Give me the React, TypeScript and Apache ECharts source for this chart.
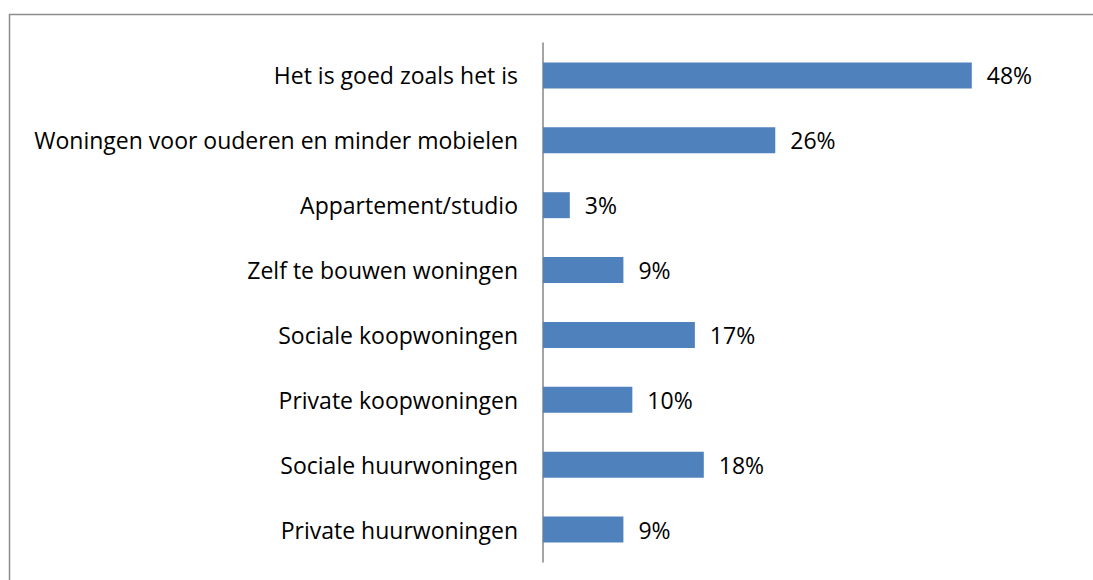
import React, { useEffect, useRef } from "react";
import * as echarts from "echarts";

const categories = [
  "Het is goed zoals het is",
  "Woningen voor ouderen en minder mobielen",
  "Appartement/studio",
  "Zelf te bouwen woningen",
  "Sociale koopwoningen",
  "Private koopwoningen",
  "Sociale huurwoningen",
  "Private huurwoningen",
];
const values = [48, 26, 3, 9, 17, 10, 18, 9];

export default function App() {
  const ref = useRef<HTMLDivElement>(null);
  useEffect(() => {
    if (!ref.current) return;
    const chart = echarts.init(ref.current, null, { renderer: "svg" });
    const font = "'Open Sans', 'Noto Sans', sans-serif";
    chart.setOption({
      animation: false,
      backgroundColor: "#ffffff",
      graphic: [
        {
          type: "rect",
          shape: { x: 9.5, y: 14.5, width: 1100, height: 600 },
          style: { fill: "none", stroke: "#8c8c8c", lineWidth: 1.5 },
          silent: true,
          z: -1,
        },
      ],
      grid: { left: 543, right: 14, top: 43, bottom: 18, containLabel: false },
      xAxis: {
        type: "value",
        min: 0,
        max: 60,
        interval: 10,
        show: false,
        splitLine: { show: false },
      },
      yAxis: {
        type: "category",
        data: categories.slice().reverse(),
        axisLine: { show: true, lineStyle: { color: "#868686", width: 1.5 } },
        axisTick: { show: false },
        axisLabel: {
          color: "#000000",
          fontSize: 23,
          fontFamily: font,
          margin: 25,
        },
      },
      series: [
        {
          type: "bar",
          data: values.slice().reverse(),
          barWidth: "40%",
          itemStyle: { color: "#4F81BD" },
          label: {
            show: true,
            position: "right",
            distance: 15,
            formatter: (p: any) => p.value + "%",
            color: "#000000",
            fontSize: 23,
            fontFamily: font,
          },
        },
      ],
    });
    return () => chart.dispose();
  }, []);
  return <div ref={ref} style={{ width: 1093, height: 580, position: "absolute", left: 0, top: 0 }} />;
}
